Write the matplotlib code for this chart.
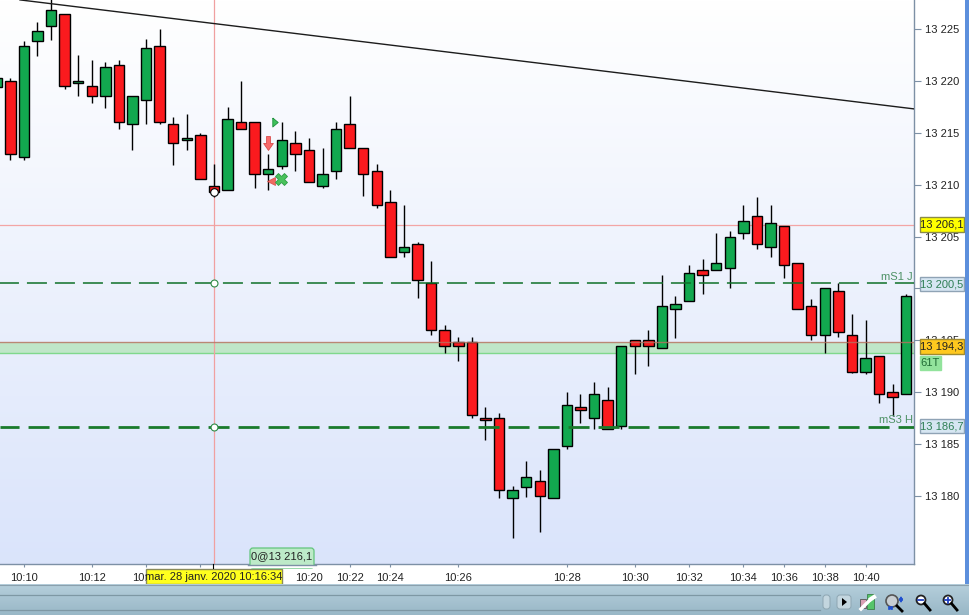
#!/usr/bin/env python3
# -*- coding: utf-8 -*-

"""Intraday candlestick chart, 28 Jan 2020, platform style."""

import numpy as np
import matplotlib
matplotlib.use("Agg")
import matplotlib.pyplot as plt
from matplotlib.patches import Rectangle, FancyBboxPatch, Circle, Polygon
from matplotlib.path import Path

plt.rcParams['font.family'] = ['Liberation Sans', 'DejaVu Sans']

# Data: first candle is the one cut off by the left edge (index -1).
opens = [13219.4, 13220.0, 13212.7, 13223.8, 13225.3, 13226.4, 13219.8, 13219.5, 13218.5,
         13221.5, 13215.8, 13218.2, 13223.4, 13215.8, 13214.3, 13214.8, 13209.9, 13209.5,
         13216.0, 13216.0, 13211.0, 13211.8, 13214.0, 13213.3, 13209.9, 13211.3, 13215.8,
         13213.5, 13211.3, 13208.3, 13203.5, 13204.3, 13200.5, 13196.0, 13194.8, 13194.8,
         13187.5, 13187.5, 13179.8, 13180.9, 13181.5, 13179.8, 13184.8, 13188.6, 13187.5,
         13189.3, 13186.8, 13195.0, 13195.0, 13194.3, 13198.0, 13198.8, 13201.8, 13201.8,
         13202.0, 13205.3, 13207.0, 13204.0, 13206.0, 13202.5, 13198.3, 13195.5, 13199.8,
         13195.5, 13192.0, 13193.5, 13190.0, 13189.8]
highs = [13220.3, 13220.3, 13223.8, 13225.7, 13228.5, 13226.4, 13222.5, 13222.0, 13221.8,
         13222.0, 13218.5, 13224.0, 13225.0, 13216.5, 13216.8, 13215.0, 13212.0, 13217.5,
         13220.0, 13216.0, 13213.0, 13216.0, 13215.2, 13214.5, 13213.5, 13216.0, 13218.5,
         13213.5, 13212.0, 13209.5, 13208.0, 13204.5, 13202.6, 13196.5, 13195.3, 13195.3,
         13188.6, 13188.0, 13181.0, 13183.4, 13182.5, 13184.5, 13190.0, 13189.8, 13191.0,
         13190.5, 13194.5, 13195.0, 13196.0, 13201.3, 13199.3, 13202.3, 13202.8, 13205.3,
         13205.5, 13208.0, 13208.8, 13208.0, 13206.0, 13202.5, 13199.0, 13200.0, 13200.5,
         13197.5, 13197.0, 13193.5, 13190.8, 13199.5]
lows = [13219.4, 13212.4, 13212.4, 13222.4, 13223.9, 13219.2, 13218.5, 13217.9, 13217.4,
        13215.4, 13213.3, 13215.8, 13215.8, 13211.9, 13213.3, 13210.5, 13208.8, 13209.5,
        13215.4, 13209.7, 13209.5, 13211.5, 13211.3, 13210.3, 13209.7, 13210.5, 13213.5,
        13208.9, 13207.8, 13203.0, 13203.0, 13199.1, 13195.5, 13193.8, 13193.0, 13187.5,
        13185.4, 13179.8, 13176.0, 13179.9, 13176.5, 13179.8, 13184.5, 13187.0, 13186.5,
        13186.5, 13186.5, 13191.8, 13192.5, 13194.3, 13195.2, 13198.8, 13199.5, 13201.8,
        13200.0, 13204.8, 13203.8, 13203.0, 13201.0, 13198.0, 13195.0, 13193.8, 13195.3,
        13191.9, 13191.8, 13189.0, 13187.7, 13189.8]
closes = [13220.3, 13213.0, 13223.4, 13224.8, 13226.8, 13219.5, 13220.0, 13218.5, 13221.3,
          13216.0, 13218.5, 13223.2, 13216.0, 13214.0, 13214.5, 13210.5, 13209.3, 13216.3,
          13215.4, 13211.0, 13211.5, 13214.3, 13213.0, 13210.3, 13211.0, 13215.4, 13213.5,
          13211.0, 13208.0, 13203.0, 13204.0, 13200.8, 13196.0, 13194.5, 13194.5, 13187.8,
          13187.3, 13180.6, 13180.6, 13181.8, 13180.0, 13184.5, 13188.8, 13188.3, 13189.8,
          13186.5, 13194.5, 13194.5, 13194.5, 13198.3, 13198.5, 13201.5, 13201.3, 13202.5,
          13205.0, 13206.5, 13204.3, 13206.3, 13202.3, 13198.0, 13195.5, 13200.0, 13195.8,
          13192.0, 13193.3, 13189.8, 13189.5, 13199.3]

# Labels under the date box and the price boxes are left blank, as they do not show.
time_ticks = [1, 6, 10, 14, 18, 22, 25, 28, 33, 41, 46, 50, 54, 57, 60, 63]
time_labels = ['10:10', '10:12', '10:14', '', '', '10:20', '10:22', '10:24',
               '10:26', '10:28', '10:30', '10:32', '10:34', '10:36', '10:38', '10:40']
price_ticks = [13180, 13185, 13190, 13195, 13200, 13205, 13210, 13215, 13220, 13225]
price_labels = ['13 180', '13 185', '13 190', '13 195', '', '13 205', '13 210', '13 215',
                '13 220', '13 225']

cursor_index = 15
cursor_price = 13206.1
last_price = 13194.3
position_low = 13193.8
s1_price = 13200.5
s3_price = 13186.7
trend_x = [0.71, 66.57]
trend_y = [13227.8, 13217.3]

# Colours.
RED = '#fb1a1e'
GREEN = '#12a84f'
AXIS = '#7d90a5'
W, H = 969, 615
PX = 72 / 100  # one pixel in points

fig = plt.figure(figsize=(W / 100, H / 100), dpi=100, facecolor='white')
ax = fig.add_axes([0, 51 / H, 914 / W, 564 / H])

# Background gradient.
grad = np.linspace(0, 1, 256).reshape(-1, 1, 1)
top = np.array([1.0, 1.0, 1.0]).reshape(1, 1, 3)
bottom = np.array([0.855, 0.894, 0.984]).reshape(1, 1, 3)
ax.imshow(top + (bottom - top) * grad, extent=[0, 1, 0, 1], transform=ax.transAxes,
          aspect='auto', zorder=0)

# Position band and price lines behind the candles.
ax.axhspan(position_low, last_price + 0.5, color='#bfe6c8', lw=0, zorder=1)
ax.axhline(position_low, color='#7fd88c', lw=1, zorder=1.2)
ax.axhline(cursor_price, color='#f3a5a5', lw=0.9, zorder=1.2)
ax.axvline(cursor_index, color='#f0a0a0', lw=0.9, zorder=1.2)

# Candles.
x = np.arange(-1, len(opens) - 1)
o = np.array(opens)
c = np.array(closes)
colors = [GREEN if b > a else RED for a, b in zip(opens, closes)]
ax.vlines(x, lows, highs, color='black', lw=1.0, zorder=3)
ax.bar(x, c - o, bottom=o, width=0.77, color=colors, edgecolor='black', linewidth=1.0, zorder=3.1)

# Lines on top.
ax.axhline(last_price + 0.5, color='#b9705f', lw=1, alpha=0.8, zorder=3.5)
ax.plot(trend_x, trend_y, color='#1c1c1c', lw=1.0, zorder=4)
ax.axhline(s1_price, color='#0f7028', lw=1.1, linestyle=(0.7, (20 * PX / 1.1, 8 * PX / 1.1)), zorder=4)
ax.axhline(s3_price, color='#1a7a2c', lw=2.0, linestyle=(0.7, (10.5 * PX, 4.5 * PX)), zorder=4)
ax.plot([cursor_index, cursor_index], [s1_price, s3_price], ls='none', marker='o', ms=5,
        mfc='white', mec='#2e8b46', mew=0.8, zorder=5)
ax.plot([cursor_index], [13209.3], ls='none', marker='o', ms=5.5, mfc='white', mec='black',
        mew=0.8, zorder=5)

# Trade marks.
arrow = Path([(-0.28, 1), (0.28, 1), (0.28, 0), (0.7, 0), (0, -1), (-0.7, 0), (-0.28, 0), (-0.28, 1)])
flag = Path([(-0.6, 1), (0.6, 0), (-0.6, -1), (-0.6, 1)])
ax.plot([18.98], [13214.0], marker=arrow, ms=10, mfc='#f86a6a', mec='#d84c4c', mew=0.6, zorder=5)
ax.plot([19.5], [13216.0], marker=flag, ms=6.5, mfc='#3ec15a', mec='#1b8f3a', mew=0.6, zorder=5)
ax.plot([19.2], [13210.4], marker='<', ms=6, mfc='#ef6a5f', mec='#d84c4c', mew=0.5, zorder=5)
ax.plot([19.94], [13210.5], marker='X', ms=8.5, mfc='#49c25c', mec='#2e9c45', mew=0.6, zorder=5.1)

ax.set_xlim(-0.759, 66.57)
ax.set_ylim(13173.46, 13227.79)

# Axes.
for side in ['left', 'top']:
    ax.spines[side].set_visible(False)
for side in ['right', 'bottom']:
    ax.spines[side].set_color(AXIS)
    ax.spines[side].set_linewidth(1.0)
ax.yaxis.tick_right()
ax.set_yticks(price_ticks)
ax.set_yticklabels(price_labels, fontsize=8, color='#222222')
ax.tick_params(axis='y', length=5, width=0.8, color=AXIS, pad=3)
ax.set_xticks(time_ticks)
ax.set_xticklabels(time_labels, fontsize=8, color='#222222')
ax.tick_params(axis='x', length=2.5, width=0.8, color=AXIS, pad=4)

# Overlay in pixel coordinates for the platform chrome.
ov = fig.add_axes([0, 0, 1, 1], zorder=10)
ov.set_xlim(0, W)
ov.set_ylim(H, 0)
ov.axis('off')
ov.patch.set_alpha(0)


def value_box(x0, y0, w, h, label, face, edge, color='#222222', size=8):
    ov.add_patch(Rectangle((x0, y0), w, h, fc=face, ec=edge, lw=1))
    ov.text(x0 + w / 2, y0 + h / 2 + 0.3, label, ha='center', va='center', fontsize=size, color=color)


value_box(920, 217, 44, 15, '13 206,1', '#ffff00', '#8a8a4a')
value_box(920, 277, 44, 14, '13 200,5', '#d6e6f2', '#8fa3b5', color='#2f7f55')
value_box(920, 339, 44, 15, '13 194,3', '#ffc81e', '#a08a30')
value_box(920, 356, 21, 14, '61T', '#92e39c', '#92e39c', color='#1f6b33')
value_box(920, 419, 44, 14, '13 186,7', '#d6e6f2', '#8fa3b5', color='#2f7f55')
ov.text(913, 277, 'mS1 J', ha='right', va='center', fontsize=8, color='#4d9165')
ov.text(913, 420, 'mS3 H', ha='right', va='center', fontsize=8, color='#4d9165')
value_box(146, 569, 136, 15, 'mar. 28 janv. 2020 10:16:34', '#ffff1e', '#8a8a5a')
ov.plot([213, 213], [564, 568], color='black', lw=0.8)
ov.add_patch(FancyBboxPatch((250, 548), 64, 20, boxstyle='round,pad=0,rounding_size=3',
                            fc='#bdeac8', ec='#62c57c', lw=0.9))
ov.add_patch(Rectangle((248, 564.5), 68, 3.5, fc='white', ec='none'))
ov.plot([248, 316], [564.5, 564.5], color=AXIS, lw=1)
ov.text(282, 556, '0@13 216,1', ha='center', va='center', fontsize=8, color='#222222')

# Right blue border and bottom toolbar.
ov.add_patch(Rectangle((965, 0), 4, 585, fc='#5c8fdc', ec='none'))
band = np.linspace(0, 1, 32).reshape(-1, 1, 1)
ctop = np.array([0.71, 0.81, 0.86]).reshape(1, 1, 3)
cbot = np.array([0.60, 0.72, 0.78]).reshape(1, 1, 3)
ov.imshow(ctop + (cbot - ctop) * band, extent=[0, W, H, 584], aspect='auto', zorder=1)
ov.set_xlim(0, W)
ov.set_ylim(H, 0)
ov.plot([0, W], [584.5, 584.5], color='#8ba0ad', lw=0.8, zorder=2)
ov.plot([0, 820], [594.5, 594.5], color='#7e98a4', lw=0.9, zorder=2)
ov.plot([0, 820], [609.5, 609.5], color='#7e98a4', lw=0.9, zorder=2)
ov.add_patch(FancyBboxPatch((823, 595), 7, 14, boxstyle='round,pad=0,rounding_size=3',
                            fc='#c3d6df', ec='#8ea6b2', lw=0.7, zorder=3))
ov.add_patch(FancyBboxPatch((837, 595), 14, 14, boxstyle='round,pad=0,rounding_size=3',
                            fc='#c3d6df', ec='#8ea6b2', lw=0.7, zorder=3))
ov.add_patch(Polygon([(842, 598), (842, 606), (847, 602)], fc='black', zorder=4))

# Settings icon.
ov.add_patch(Rectangle((860, 599), 6, 9, fc='#d9a0b4', ec='#555555', lw=0.6, zorder=3))
ov.add_patch(Rectangle((867, 594), 7, 15, fc='#56c46a', ec='#3c7f4a', lw=0.6, zorder=3))
ov.plot([861, 871], [609, 599], color='white', lw=2.5, zorder=4)
ov.plot([871, 874], [599, 597], color='white', lw=3, zorder=4)

# Zoom icons.
ov.add_patch(Circle((892, 601), 6, fc='#c8ced2', ec='#555555', lw=1.2, zorder=3))
ov.plot([897, 902], [606, 611], color='black', lw=2, zorder=4)
ov.annotate('', xy=(901, 593), xytext=(901, 606), arrowprops=dict(arrowstyle='<|-|>', color='#1f4fd0', lw=1, mutation_scale=5), zorder=4)
ov.annotate('', xy=(885, 608), xytext=(896, 608), arrowprops=dict(arrowstyle='<|-|>', color='#1f4fd0', lw=1, mutation_scale=5), zorder=4)
for cx, plus in [(921, False), (948, True)]:
    ov.add_patch(Circle((cx, 600), 4.5, fc='white', ec='#222222', lw=1.3, zorder=3))
    ov.plot([cx + 3.5, cx + 9], [603.5, 610], color='black', lw=2, zorder=4)
    ov.plot([cx - 2.5, cx + 2.5], [600, 600], color='#1f3fc0', lw=1.3, zorder=5)
    if plus:
        ov.plot([cx, cx], [597.5, 602.5], color='#1f3fc0', lw=1.3, zorder=5)

fig.savefig('out.png', dpi=100)
